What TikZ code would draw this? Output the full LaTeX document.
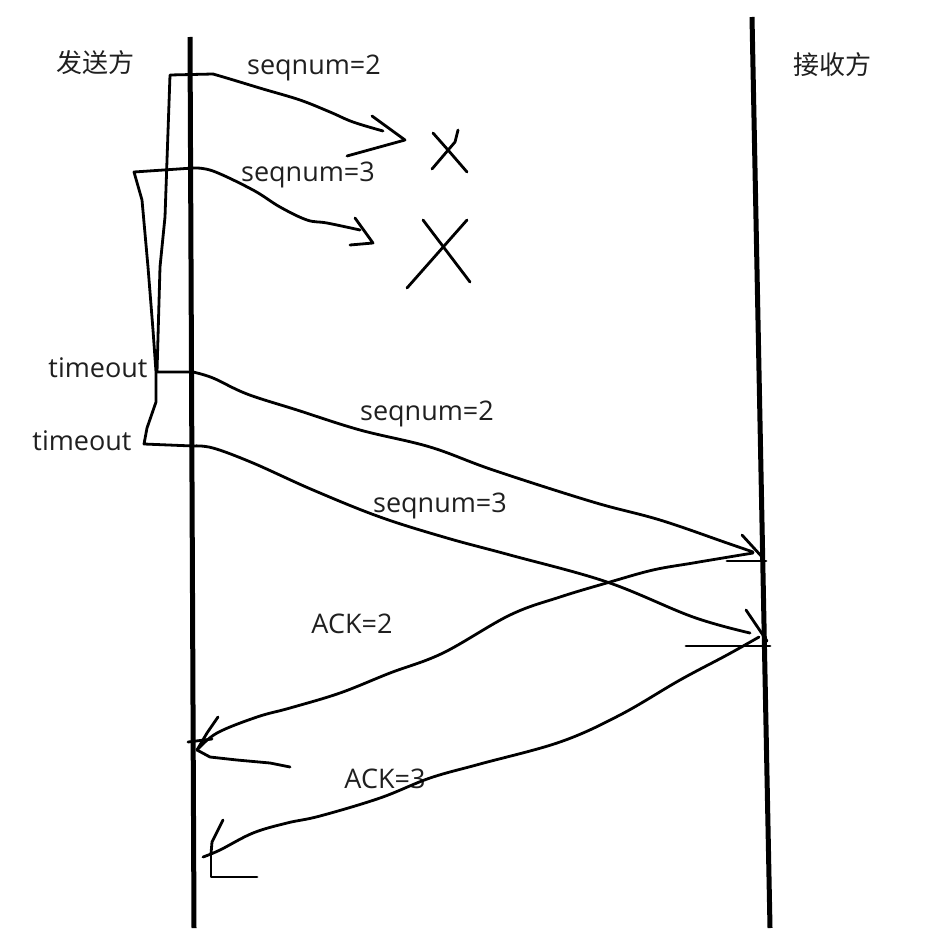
\documentclass[tikz,border=0pt]{standalone}
\usepackage{fontspec}
\setmainfont{Open Sans}
\newfontfamily\cjk{Noto Sans CJK SC}
\begin{document}
\begin{tikzpicture}[x=1pt, y=-1pt,
  lifeline/.style={line width=5pt},
  stroke/.style={line width=2.8pt, line cap=round, line join=round},
  wire/.style={stroke, smooth, tension=0.6},
  lbl/.style={font=\fontsize{27}{31}\selectfont, text=black!88, inner sep=0pt},
  side/.style={font=\cjk\fontsize{26}{30}\selectfont, text=black!88, inner sep=0pt}]
 \useasboundingbox (0, 0) rectangle (936, 931);
 \node[side] (SENDER) at (95, 63) {发送方};
 \node[side] (RECEIVER) at (832, 65) {接收方};
 \coordinate (STOP) at (190, 37);
 \coordinate (SBOT) at (194, 928);
 \coordinate (RTOP) at (752, 17);
 \coordinate (RBOT) at (770, 928);
 \draw[lifeline] (STOP) -- (SBOT);
 \draw[lifeline] (RTOP) -- (RBOT);

 \node[lbl] (SEQ2) at (314, 68) {seqnum=2};
 \node[lbl] (SEQ3) at (308, 175) {seqnum=3};
 \node[lbl] (TOUT1) at (98, 368) {timeout};
 \node[lbl] (TOUT2) at (82, 441) {timeout};
 \node[lbl] (RSEQ2) at (427, 414) {seqnum=2};
 \node[lbl] (RSEQ3) at (440, 506) {seqnum=3};
 \node[lbl] (ACK2) at (352, 624) {ACK=2};
 \node[lbl] (ACK3) at (385, 779) {ACK=3};

 \coordinate (T1TOP) at (170, 75);
 \coordinate (T1OUT) at (157, 372);
 \coordinate (T2TOP) at (134, 172);
 \coordinate (T2OUT) at (144, 444);
 \coordinate (P2S) at (213, 74);
 \coordinate (P2E) at (383, 131);
 \coordinate (P2T) at (405, 140);
 \coordinate (P3S) at (193, 168);
 \coordinate (P3E) at (360, 230);
 \coordinate (P3T) at (373, 243);
 \coordinate (Q2S) at (193, 372);
 \coordinate (Q2E) at (753, 552);
 \coordinate (Q2T) at (763, 558);
 \coordinate (Q3S) at (193, 446);
 \coordinate (Q3E) at (750, 633);
 \coordinate (Q3T) at (767, 641);
 \coordinate (A2S) at (753, 553);
 \coordinate (A2E) at (197, 750);
 \coordinate (A3S) at (759, 637);
 \coordinate (A3E) at (203, 857);
 \coordinate (A3T) at (211, 854);

 \draw[stroke] (P2S) -- (T1TOP) -- (165, 217) -- (160, 267) -- (T1OUT) -- (Q2S);
 \draw[stroke] (P3S) -- (T2TOP) -- (142, 200) -- (148, 267) -- (153, 330)
   -- (156, 372) -- (156, 402) -- (147, 428) -- (T2OUT) -- (Q3S);

 \draw[wire] plot coordinates {(P2S) (230, 79) (263, 89) (300, 100) (330, 112) (353, 122) (P2E)};
 \draw[stroke] (372, 116) -- (P2T) -- (347, 156);
 \draw[wire] plot coordinates {(P3S) (213, 171) (253, 190) (280, 207) (307, 220) (327, 223) (P3E)};
 \draw[stroke] (355, 218) -- (P3T) -- (350, 245);

 \draw[stroke] (433, 133) -- (448, 150) -- (467, 172);
 \draw[stroke] (458, 130) -- (455, 142) -- (432, 169);
 \draw[stroke] (423, 220) -- (470, 282);
 \draw[stroke] (467, 220) -- (407, 288);

 \draw[wire] plot coordinates {(Q2S) (213, 378) (247, 394) (297, 410) (360, 430) (430, 447)
   (493, 470) (593, 502) (660, 520) (727, 543) (Q2E)};
 \draw[stroke] (742, 535) -- (Q2T);
 \draw[stroke] (727, 561) -- (766, 561);
 \draw[wire] plot coordinates {(Q3S) (213, 448) (253, 463) (313, 490) (380, 517) (447, 538)
   (510, 555) (607, 582) (693, 617) (Q3E)};
 \draw[stroke] (746, 610) -- (Q3T);
 \draw[stroke] (686, 646) -- (770, 646);

 \draw[wire] plot coordinates {(A2S) (693, 563) (653, 570) (610, 582) (560, 597) (510, 615)
   (443, 653) (390, 673) (340, 693) (290, 708) (257, 717) (217, 733) (A2E)};
 \draw[stroke] (A2E) -- (207, 733) -- (218, 717);
 \draw[stroke] (A2E) -- (210, 757) -- (237, 760) -- (270, 763) -- (290, 767);
 \draw[stroke] (188, 742) -- (212, 739);
 \draw[wire] plot coordinates {(A3S) (727, 655) (680, 680) (620, 715) (560, 742) (480, 764)
   (430, 778) (380, 798) (320, 816) (287, 823) (253, 833) (220, 850) (A3E)};
 \draw[stroke] (A3T) -- (212, 842) -- (217, 832) -- (223, 820);
 \draw[stroke] (A3T) -- (211, 877) -- (257, 877);
\end{tikzpicture}
\end{document}
